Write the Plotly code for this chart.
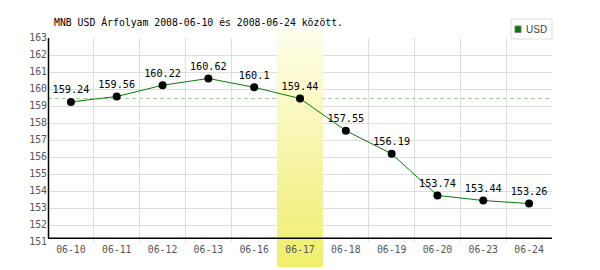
import plotly.graph_objects as go

# ---- data ----
dates = ["06-10", "06-11", "06-12", "06-13", "06-16", "06-17",
         "06-18", "06-19", "06-20", "06-23", "06-24"]
rates = [159.24, 159.56, 160.22, 160.62, 160.1, 159.44,
         157.55, 156.19, 153.74, 153.44, 153.26]
rate_labels = ["159.24", "159.56", "160.22", "160.62", "160.1", "159.44",
               "157.55", "156.19", "153.74", "153.44", "153.26"]
y_ticks = list(range(151, 164))
highlight_date = "06-17"
series_name = "USD"
title_text = "MNB USD Árfolyam 2008-06-10 és 2008-06-24 között."

# ---- geometry helpers ----
W, H = 600, 270
L, R, T, B = 48, 48, 38, 28
PW, PH = W - L - R, H - T - B
YMIN, YMAX = y_ticks[0], y_ticks[-1]


def pxx(x):
    return (x - L) / PW


def pxy(y):
    return (H - B - y) / PH


def pix_to_val(y):
    return YMAX - (y - T) / PH * (YMAX - YMIN)


MONO = "DejaVu Sans Mono"
xs = list(range(len(dates)))
hi = dates.index(highlight_date)

top_c = (255, 254, 236)
bot_c = (240, 238, 108)
y_top, y_bot = 29.0, 267.0


def col_at(pix):
    t = (pix - y_top) / (y_bot - y_top)
    c = tuple(round(top_c[k] + (bot_c[k] - top_c[k]) * t) for k in range(3))
    return "rgb(%d,%d,%d)" % c


shapes = []
# dashed reference line at highlighted value (under the band)
shapes.append(dict(type="line", xref="x", yref="y", x0=-0.5, x1=len(dates) - 0.5,
                   y0=rates[hi], y1=rates[hi], layer="below",
                   line=dict(color="#a8c8a8", width=1, dash="4px,3px")))

# band parts outside the plot area (paper shapes)
bx0, bx1 = hi / len(dates), (hi + 1) / len(dates)
segs = [(y_top, T)] + [(H - B + i * 5, H - B + (i + 1) * 5) for i in range(5)]
for a, b in segs:
    shapes.append(dict(type="rect", xref="paper", yref="paper", x0=bx0, x1=bx1,
                       y0=pxy(min(b + 1, y_bot)), y1=pxy(a), layer="below",
                       fillcolor=col_at((a + b) / 2), line=dict(width=0)))

# black axis lines
shapes.append(dict(type="line", xref="paper", yref="paper", x0=0, x1=1,
                   y0=pxy(238.3), y1=pxy(238.3), layer="above",
                   line=dict(color="black", width=1.5)))
shapes.append(dict(type="line", xref="paper", yref="paper", x0=pxx(48.5), x1=pxx(48.5),
                   y0=pxy(238.3), y1=1, layer="above",
                   line=dict(color="black", width=1.5)))

# legend box
shapes.append(dict(type="rect", xref="paper", yref="paper", x0=pxx(511), x1=pxx(552),
                   y0=pxy(39), y1=pxy(19), layer="above",
                   fillcolor="white", line=dict(color="#dddddd", width=1)))
shapes.append(dict(type="rect", xref="paper", yref="paper", x0=pxx(515), x1=pxx(521),
                   y0=pxy(32.5), y1=pxy(26), layer="above",
                   fillcolor="#007a00", line=dict(color="#777777", width=1)))

annotations = [
    dict(text=title_text, xref="paper", yref="paper", x=pxx(52), y=pxy(22),
         xanchor="left", yanchor="middle", showarrow=False,
         font=dict(family=MONO, size=9.8, color="black")),
    dict(text=series_name, xref="paper", yref="paper", x=pxx(523.5), y=pxy(29.5),
         xanchor="left", yanchor="middle", showarrow=False,
         font=dict(family="Liberation Sans Narrow, Liberation Sans, sans-serif",
                   size=10, color="#444444")),
]

fig = go.Figure()
# highlight band inside plot area with vertical gradient
fig.add_trace(go.Scatter(
    x=[hi - 0.5, hi + 0.5, hi + 0.5, hi - 0.5, hi - 0.5],
    y=[YMIN, YMIN, YMAX, YMAX, YMIN],
    mode="lines", line=dict(width=0), fill="toself",
    fillgradient=dict(type="vertical",
                      colorscale=[[0, col_at(y_bot)], [1, col_at(y_top)]],
                      start=pix_to_val(y_bot), stop=pix_to_val(y_top)),
    hoverinfo="skip", showlegend=False,
))
fig.add_trace(go.Scatter(
    x=xs, y=rates, mode="lines+markers+text", name=series_name,
    text=rate_labels, textposition="top center",
    textfont=dict(family=MONO, size=10.2, color="black"),
    line=dict(color="#008000", width=1),
    marker=dict(color="black", size=8),
    cliponaxis=False, hoverinfo="skip",
))

fig.update_layout(
    width=W, height=H,
    margin=dict(l=L, r=R, t=T, b=B, pad=0),
    paper_bgcolor="white", plot_bgcolor="white",
    showlegend=False,
    shapes=shapes, annotations=annotations,
    xaxis=dict(range=[-0.5, len(dates) - 0.5], tickmode="array", tickvals=xs,
               ticktext=dates, showgrid=False, zeroline=False, showline=False,
               ticks="", tickfont=dict(family=MONO, size=9.8, color="#555555"),
               minor=dict(tickmode="array",
                          tickvals=[i - 0.5 for i in xs] + [len(dates) - 0.5],
                          showgrid=True, gridcolor="#dddddd", gridwidth=1, ticks=""),
               fixedrange=True),
    yaxis=dict(range=[YMIN, YMAX], tickmode="array", tickvals=y_ticks,
               showgrid=True, gridcolor="#dddddd", gridwidth=1, zeroline=False,
               showline=False, ticks="",
               tickfont=dict(family=MONO, size=9.8, color="#555555"),
               fixedrange=True),
)

fig.write_html("out.html", config={"displayModeBar": False})
